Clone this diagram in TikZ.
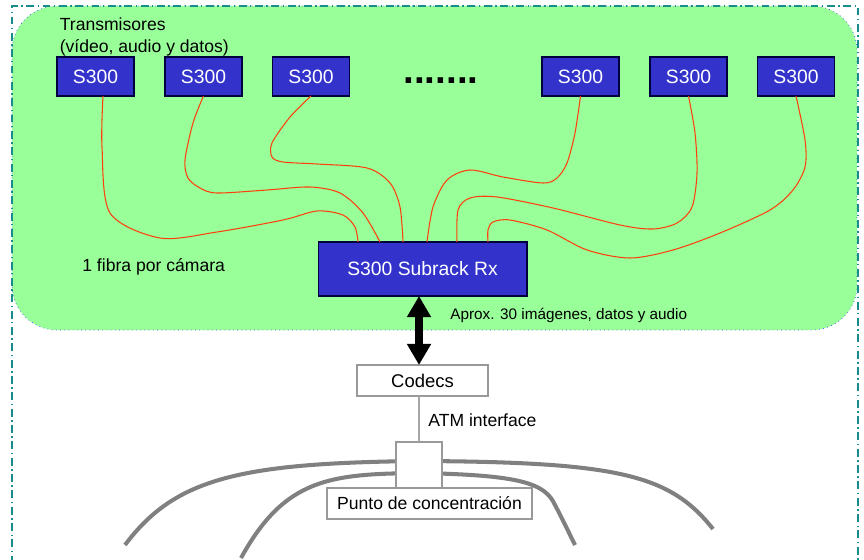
\documentclass[tikz,border=0pt]{standalone}
\usepackage{fontspec}
\setmainfont{Liberation Sans}
\usetikzlibrary{arrows.meta}

\definecolor{verde}{rgb}{0.6,1,0.6}
\definecolor{azul}{rgb}{0.2,0.2,0.8}
\definecolor{fibra}{rgb}{1,0.25,0.05}
\definecolor{marco}{rgb}{0.1,0.55,0.55}

\begin{document}
\begin{tikzpicture}[x=0.02cm,y=-0.02cm,
    caja/.style={draw=black!75!blue, line width=0.6pt, fill=azul, text=white,
        inner sep=0pt, outer sep=0pt, font=\fontsize{11}{13}\selectfont},
    blanca/.style={draw=gray!80, line width=0.6pt, fill=white, inner sep=0pt, outer sep=0pt},
    hilo/.style={fibra, line width=0.6pt},
    cable/.style={gray, line width=2.3pt}]
    \useasboundingbox (0,0) rectangle (864,560);
    \clip (0,0) rectangle (864,560);

    % zona de camaras
    \draw[fill=verde, draw=blue!70, dotted, line width=0.4pt, rounded corners=0.9cm] (12,6) rectangle (857,330);
    \draw[marco, line width=1.1pt, dash pattern=on 4.5pt off 2pt on 0.8pt off 2pt] (12,580) -- (12,6) -- (858,6) -- (858,580);

    \node[anchor=north west, align=left, inner sep=0pt, font=\fontsize{10}{12.5}\selectfont] (tit) at (59.5,17.5) {Transmisores\\(vídeo, audio y datos)};

    \foreach \x [count=\i] in {95.5,203.5,311,580.5,688.5,796}
        \node[caja, minimum width=1.54cm, minimum height=0.78cm] (t\i) at (\x,76.5) {S300};
    \node[anchor=base, inner sep=0pt, font=\fontsize{22}{22}\selectfont\bfseries] (puntos) at (441,83.5) {.......};

    \node[caja, minimum width=4.18cm, minimum height=1.08cm] (rx) at (422.5,269) {S300 Subrack Rx};
    \node[anchor=west, inner sep=0pt, font=\fontsize{10}{12}\selectfont] (nota) at (82,267) {1 fibra por cámara};

    \foreach \x [count=\i] in {358,380,403,427,457,488}
        \coordinate (r\i) at (\x,242);

    % fibras
    \draw[hilo] plot[smooth] coordinates {([xshift=0.15cm]t1.south) (102,147) (110,213) (160,238) (217,232) (283,220) (317,211) (343,215) (355,227) (r1)};
    \draw[hilo] plot[smooth] coordinates {(t2.south) (193,123) (185,160) (188,178) (200,188) (217,193) (267,190) (310,187) (340,193) (363,213) (r2)};
    \draw[hilo] plot[smooth] coordinates {(t3.south) (290,117) (272,143) (272,157) (283,162) (317,164) (367,168) (390,183) (400,207) (r3)};
    \draw[hilo] plot[smooth] coordinates {(t4.south) (575,133) (567,163) (557,178) (543,183) (503,177) (470,170) (447,180) (433,207) (r4)};
    \draw[hilo] plot[smooth] coordinates {(t5.south) (695,133) (697,173) (692,207) (677,223) (653,229) (620,225) (553,208) (497,197) (470,198) (458,210) (r5)};
    \draw[hilo] plot[smooth] coordinates {(t6.south) (805,140) (805,167) (793,190) (770,210) (720,233) (673,250) (630,258) (587,250) (547,230) (510,220) (493,222) (488,230) (r6)};

    % enlace
    \node[blanca, minimum width=2.62cm, minimum height=0.62cm, font=\fontsize{10.5}{12}\selectfont] (codecs) at (422.5,380.5) {Codecs};
    \coordinate (eje) at (419,0);
    \draw[line width=4.5pt, {Triangle[width=13pt,length=12pt]}-{Triangle[width=13pt,length=12pt]}] (rx.south -| eje) -- (codecs.north -| eje);
    \node[anchor=west, inner sep=0pt, font=\fontsize{8.7}{10}\selectfont] (aprox) at (450,315) {Aprox. 30 imágenes, datos y audio};

    % red
    \draw[cable] (125,545) .. controls (175,478) and (240,463) .. (419,461) .. controls (620,462) and (670,475) .. (713,529);
    \draw[cable] (241,558) .. controls (285,478) and (330,474) .. (419,473) .. controls (520,475) and (545,483) .. (555,505) .. controls (563,520) and (570,535) .. (575,545);

    \node[blanca, minimum width=0.92cm, minimum height=0.92cm] (nodo) at (419,465) {};
    \draw[gray!70, line width=0.8pt] (codecs.south -| eje) -- (nodo.north);
    \node[anchor=west, inner sep=0pt, font=\fontsize{10}{12}\selectfont] (atm) at (428,420) {ATM interface};
    \node[blanca, minimum width=4.1cm, minimum height=0.62cm, font=\fontsize{10}{12}\selectfont] (punto) at (429.5,503.5) {Punto de concentración};
\end{tikzpicture}
\end{document}
